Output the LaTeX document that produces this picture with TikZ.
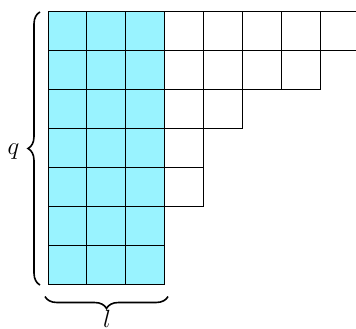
\documentclass[tikz,border=0pt]{standalone}
\usetikzlibrary{decorations.pathreplacing}
\definecolor{cellcyan}{RGB}{153,243,255}
\begin{document}
\begin{tikzpicture}[x=1pt,y=-1pt,
  gridline/.style={line width=1pt, draw=black},
  bracestyle/.style={decorate, decoration={brace, amplitude=12pt}, line width=1.6pt},
  lbl/.style={font=\fontsize{26}{30}\selectfont, inner sep=0pt, anchor=base}]
\useasboundingbox (0,0) rectangle (356,329);
\def\s{38.9}
\begin{scope}
  \clip (0,0) rectangle (356,329);
  \fill[cellcyan] (48,12) rectangle ++({3*\s},{7*\s});
  \foreach \r/\n in {0/8,1/7,2/5,3/4,4/4,5/3,6/3}{
    \foreach \c in {1,...,\n}{
      \draw[gridline] ({48+(\c-1)*\s},{12+\r*\s}) rectangle ++(\s,\s);
    }
  }
\end{scope}
\coordinate (lb) at (40,285);
\coordinate (lt) at (40,12);
\coordinate (br) at (168,296.5);
\coordinate (bl) at (45,296.5);
\draw[bracestyle] (lb) -- (lt);
\draw[bracestyle] (br) -- (bl);
\node[lbl] (q) at (13.5,154) {$q$};
\node[lbl] (l) at (107,327.5) {$l$};
\end{tikzpicture}
\end{document}
